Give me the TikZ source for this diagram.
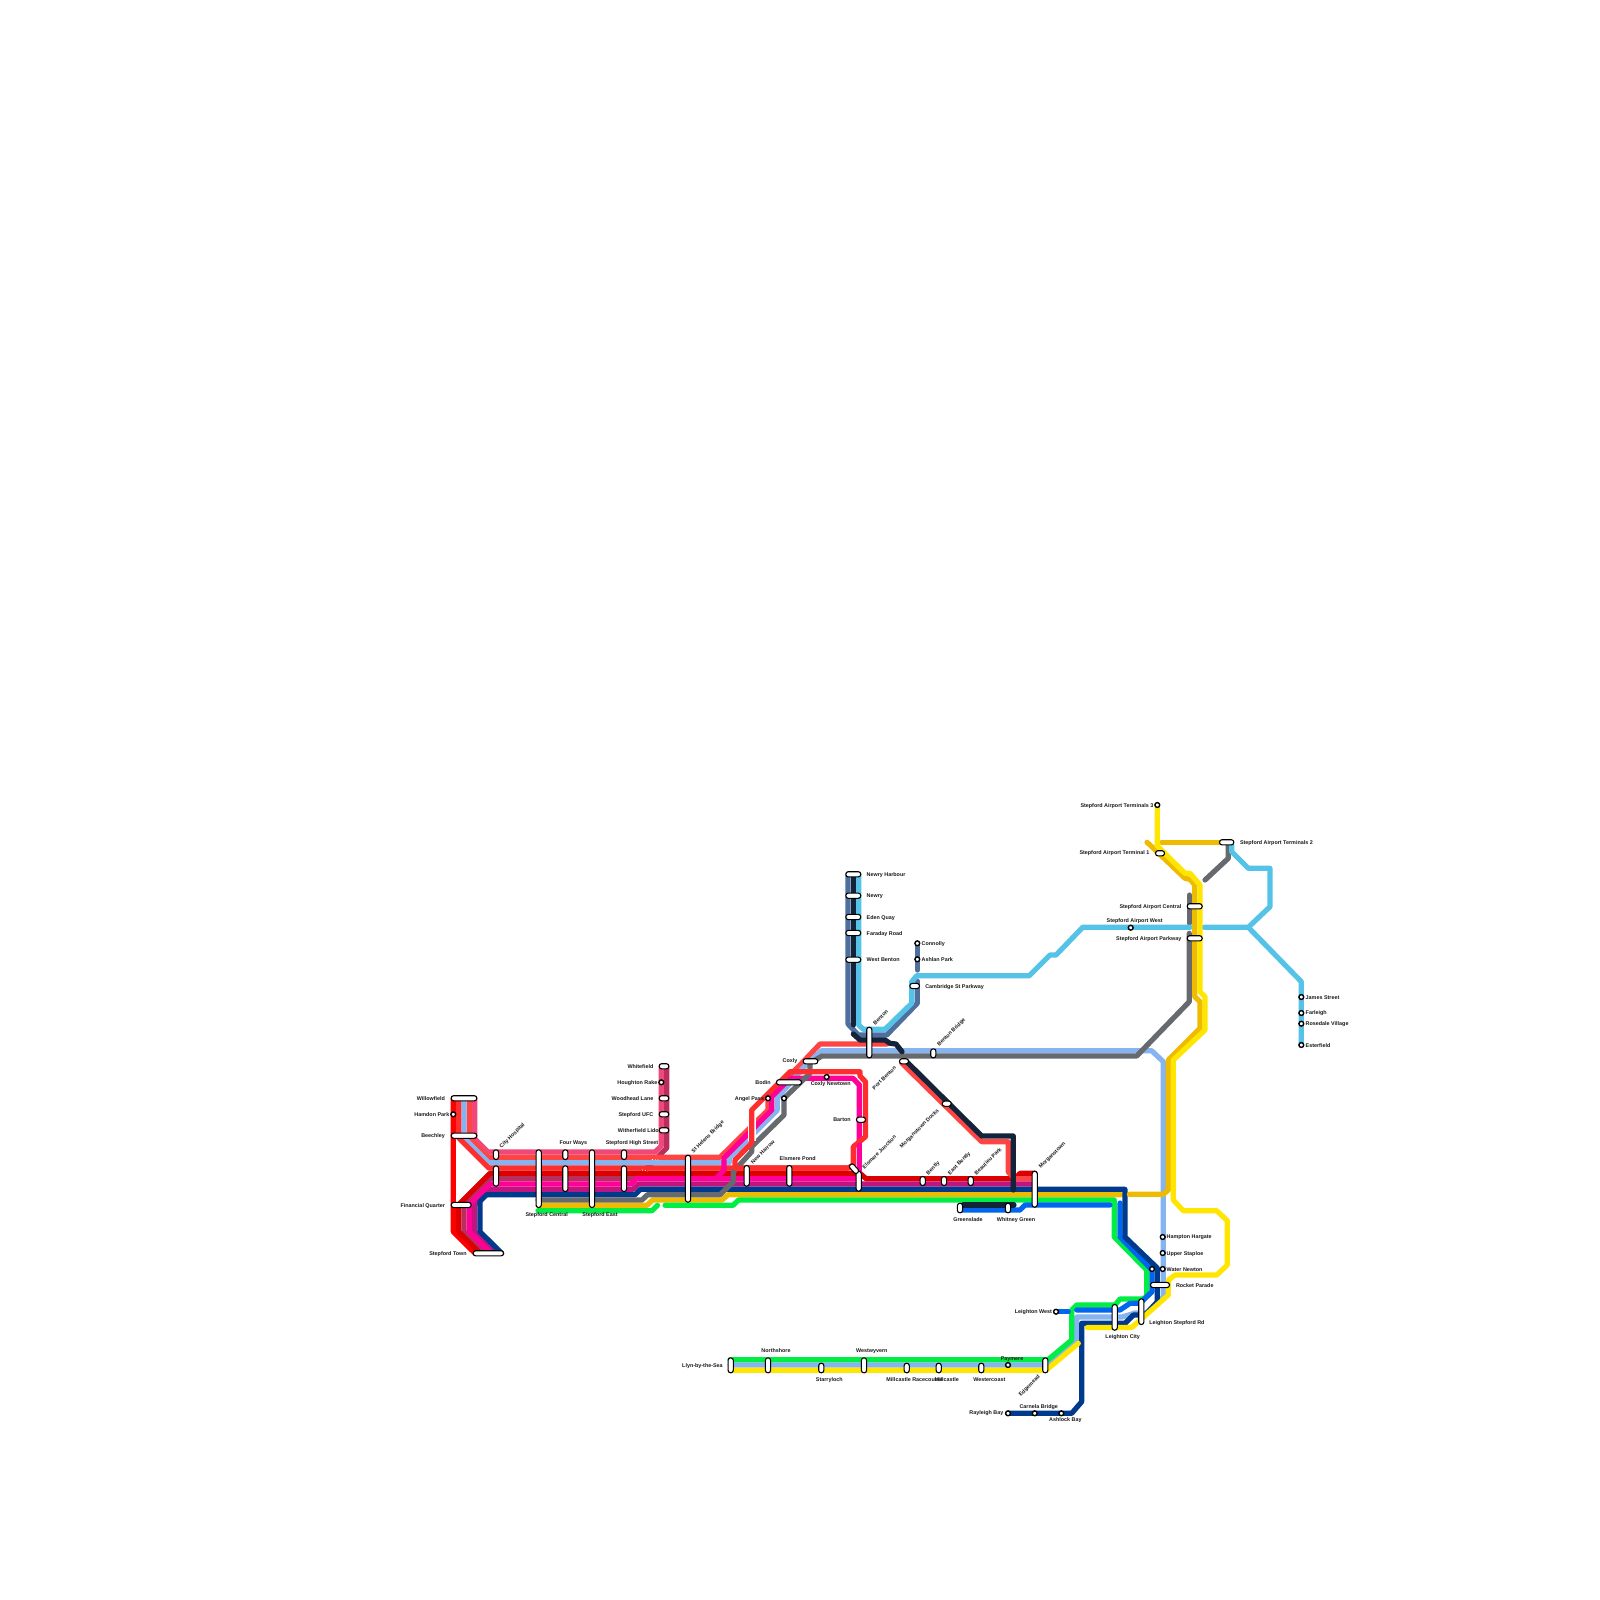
\documentclass[tikz,border=0pt]{standalone}
\usepackage{fontspec}
\setmainfont{Liberation Sans}
\definecolor{cBright}{HTML}{FF0000}
\definecolor{cPink}{HTML}{F0487A}
\definecolor{cRedA}{HTML}{FF4444}
\definecolor{cBlue}{HTML}{85B4F0}
\definecolor{cRed}{HTML}{FF2E2E}
\definecolor{cDark}{HTML}{DC0000}
\definecolor{cMaroon}{HTML}{B82E5E}
\definecolor{cMag}{HTML}{FF0099}
\definecolor{cPurple}{HTML}{C0157F}
\definecolor{cNavy}{HTML}{003A8C}
\definecolor{cGrey}{HTML}{666A6E}
\definecolor{cGold}{HTML}{EEBB00}
\definecolor{cGreen}{HTML}{00EE44}
\definecolor{cYellow}{HTML}{FFE600}
\definecolor{cSky}{HTML}{55C2E8}
\definecolor{cSteel}{HTML}{4F6F9F}
\definecolor{cInk}{HTML}{13233A}
\definecolor{cAzure}{HTML}{0066EE}
\definecolor{cText}{HTML}{1A1A1A}
\tikzset{
  route/.style={line width=2.6pt,line join=round,line cap=round},
  stcap/.style={draw=black,fill=white,line width=.55pt,rounded corners=1.25pt,inner sep=0pt,outer sep=0pt},
  stc/.style={circle,draw=black,fill=white,line width=.7pt,minimum size=2.4pt,inner sep=0pt,outer sep=0pt},
  lbl/.style={inner sep=0pt,outer sep=0pt,yshift=-0.35pt,text=cText,font=\fontsize{2.7pt}{3.2pt}\selectfont\bfseries},
}
\newcommand\capH[4]{\pgfmathsetmacro\cw{(#3-#2)*0.5-0.5}\pgfmathsetmacro\cx{(#2+#3)/2}%
  \node[stcap,minimum width=\cw pt,minimum height=2.6pt] (#1) at (\cx,#4) {};}
\newcommand\capV[4]{\pgfmathsetmacro\ch{(#4-#3)*0.5-0.5}\pgfmathsetmacro\cy{(#3+#4)/2}%
  \node[stcap,minimum width=2.6pt,minimum height=\ch pt] (#1) at (#2,\cy) {};}
\newcommand\stC[3]{\node[stc] (#1) at (#2,#3) {};}
\newcommand\lab[5]{\node[lbl,#1] (#2) at (#3,#4) {#5};}
\begin{document}
\begin{tikzpicture}[x=0.5pt,y=-0.5pt]
\useasboundingbox[fill=white] (0,0) rectangle (1600,1600);
% --- back lines
\draw[route,cBright] (453.3,1098)--(453.3,1231.7)--(475,1253.3);
\draw[route,cMaroon] (485.7,1253.3)--(464,1231.7)--(464,1204.67)--(490,1178.67)--(636.7,1178.67)--(666.7,1148)--(666.7,1066);
\draw[route,cPink] (474.7,1098)--(474.7,1138.7)--(488,1152)--(655,1152)--(661.3,1146)--(661.3,1066);
\draw[route,cRedA] (469.3,1098)--(469.3,1138.3)--(488.3,1157.33)--(720,1157.33)--(768,1110)--(768,1097)--(800,1065)--(820,1044)--(887,1044);
\draw[route,cBlue] (464,1098)--(464,1138)--(488.7,1162.67)--(729.3,1162.67)--(729.3,1158)--(777.3,1110)--(777.3,1098)--(803,1068)--(821.7,1050.7)--(1151.7,1050.7)--(1163.3,1061.7)--(1163.3,1296.7)--(1146.7,1313)--(1135,1313)--(1122,1317)--(1076.7,1317)--(1076.7,1340)--(1050,1365)--(730,1365);
\draw[route,cRed] (458.7,1098)--(458.7,1138)--(488.7,1168)--(848,1168);
\draw[route,cDark] (480.3,1253.3)--(458.7,1231.7)--(458.7,1204.67)--(490,1173.33)--(860,1173.33)--(866,1178.67)--(1015,1178.67)--(1020,1173.33)--(1035,1173.33);
\draw[route,cRedA] (901.7,1063)--(981.7,1141.7)--(1008.3,1141.7)--(1008.3,1172)--(1014.7,1178.67)--(1035,1178.67);
\draw[route,cPurple] (496,1253.3)--(474.7,1231.7)--(474.7,1204.67)--(490,1189.33)--(633,1189.33)--(638.5,1184)--(1035,1184);
\draw[white,line width=.4pt,densely dotted] (642,1170)--(648,1171) (652,1159.5)--(660,1160);
\draw[route,cGold] (538,1205.33)--(647,1205.33)--(652.5,1200)--(722,1200)--(728,1194.67)--(1121,1194.67);
\draw[route,cGreen] (538,1210.67)--(652,1210.67)--(657.5,1205.33);
\draw[route,cGreen] (665,1205.33)--(733,1205.33)--(738.5,1200)--(1114.3,1200)--(1114.3,1237)--(1146.7,1270)--(1146.7,1296.7)--(1142,1299)--(1120,1299)--(1115,1305)--(1076.7,1305)--(1071.7,1310)--(1071.7,1340)--(1048,1359.7)--(730,1359.7);
\draw[route,cAzure] (960,1210)--(1020,1210)--(1025,1205)--(1110,1205);
\draw[route,cAzure] (1120,1203)--(1120,1237)--(1152,1270)--(1152,1291.7)--(1140,1303.3)--(1130,1303.3)--(1120,1310)--(1076.7,1310);
\draw[route,cAzure] (1056,1311.7)--(1068.3,1311.7);
\draw[route,cNavy] (501.7,1253.3)--(480,1231.7)--(480,1201)--(486.7,1194.67)--(635,1194.67)--(640.5,1189.33)--(1125,1189.33)--(1125,1237)--(1157.3,1268)--(1157.3,1301.7)--(1145,1315)--(1133.3,1315)--(1125,1323.3)--(1081.7,1323.3)--(1081.7,1401.7)--(1071.7,1413.3)--(1008,1413.3);
\draw[route,cMag] (490.67,1253.3)--(469.3,1231.7)--(469.3,1204.67)--(490,1184)--(631,1184)--(636.5,1178.67)--(859.3,1178.67)--(859.3,1085)--(853,1078.3)--(790,1078.3)--(771.7,1096.7)--(771.7,1110)--(724,1158)--(724,1170)--(716,1178.67);
\draw[route,cGrey] (538,1200)--(642,1200)--(647.5,1194.67)--(720,1194.67)--(733.3,1181.7)--(733.3,1171.7)--(751.7,1151.7)--(751.7,1146.7)--(784,1115)--(784,1098.3)--(810,1073.3)--(810,1063)--(822,1056)--(1136.7,1056)--(1189.3,1001.7)--(1189.3,933.3);
\draw[route,cGrey] (1189.3,895)--(1189.3,923.3);
\draw[route,cGrey] (1228.3,845)--(1228.3,858.3)--(1205,880);
\draw[line width=3.9pt,white] (751.7,1118)--(751.7,1141);
\draw[route,cRed] (848,1168)--(735,1168)--(735,1160)--(751.7,1143)--(751.7,1110)--(790,1071.7)--(860,1071.7)--(860,1076)--(865.5,1081.7)--(865.5,1136.7)--(853.3,1146.7)--(853.3,1165)--(848,1168);
\draw[route,cMag] (859.3,1085)--(859.3,1130);
\draw[route,cMag] (859.3,1145)--(859.3,1170);
% top group
\draw[route,cSteel] (848,874)--(848,1024)--(858.3,1035)--(886.7,1035)--(917.3,1003.3)--(917.3,981);
\draw[route,cSteel] (917.3,943.3)--(917.3,970);
\draw[route,cInk] (853.3,874)--(853.3,1025);
\draw[route,cInk] (853.3,1034)--(860,1040)--(885,1040)--(890,1043.3)--(896,1044)--(902,1051.7);
\draw[route,cInk] (906.7,1061.7)--(981.7,1136)--(1013.3,1136)--(1013.3,1190);
\draw[route,cInk] (963,1205)--(1014,1205);
\draw[route,cSky] (858.7,874)--(858.7,1025)--(863.3,1029.3)--(885,1029.3)--(911.7,1003.3)--(911.7,981.7)--(916.7,975.7)--(1029.3,975.7)--(1050,955)--(1056,955)--(1082.7,927.3)--(1190,927.3);
\draw[route,cSky] (1204,927.3)--(1248.3,927.3)--(1270,906.7)--(1270,868.3)--(1248.3,868.3)--(1231.7,851.7)--(1231.7,845);
\draw[route,cSky] (1248.3,927.3)--(1301.3,981.7)--(1301.3,1045);
% gold and yellow right
\draw[route,cGold] (1129.3,1194.3)--(1163.3,1194.3)--(1168.3,1190)--(1168.3,1060)--(1200,1028.3)--(1200,1001.7)--(1194.7,996.7)--(1194.7,885)--(1190,879.3)--(1185,878.3)--(1150,845)--(1147,842.3);
\draw[route,cGold] (1161.7,842.3)--(1223,842.3);
\draw[route,cYellow] (1157.3,805)--(1157.3,846)--(1185,873.3)--(1190,873.3)--(1200,885)--(1200,991.7)--(1205,996.7)--(1205,1030)--(1173.3,1060)--(1173.3,1200)--(1183.3,1210.7)--(1216.7,1210.7)--(1227.3,1220.7)--(1227.3,1265)--(1216.7,1275)--(1175,1275)--(1168.3,1280)--(1168.3,1295)--(1131.7,1327.5)--(1087.3,1327.5);
\draw[route,cYellow] (1078.3,1343.3)--(1046,1370.3)--(730,1370.3);
% stations
\capH{sWillowfield}{450.7}{477.3}{1098.3}
\stC{sHamdon}{453.3}{1114.3}
\capH{sBeechley}{450.7}{477.3}{1135.7}
\capH{sFinancial}{450.7}{471.7}{1205}
\capH{sTown}{472.7}{504}{1253.3}
\capV{sCityA}{496}{1149.3}{1160}
\capV{sCityB}{496}{1165.3}{1186.7}
\capV{sCentral}{538.7}{1149.3}{1208}
\capV{sFourA}{565.3}{1149.3}{1160}
\capV{sFourB}{565.3}{1165.3}{1192}
\capV{sEast}{592}{1149.3}{1208}
\capV{sHighA}{624}{1149.3}{1160}
\capV{sHighB}{624}{1165.3}{1192}
\capV{sHelens}{688}{1154.7}{1202.7}
\capH{sWhitefield}{658.7}{669.3}{1066.3}
\stC{sHoughton}{661.3}{1082.3}
\capH{sWoodhead}{658.7}{669.3}{1098.3}
\capH{sUFC}{658.7}{669.3}{1114.3}
\capH{sLido}{658.7}{669.3}{1130.3}
\capV{sHarrow}{746.7}{1165}{1186.7}
\capV{sElsmere}{789.3}{1165}{1186.7}
\capV{sJunction}{858.7}{1170.7}{1191.7}
\node[draw=black,fill=white,line width=.55pt,rounded corners=1.25pt,minimum width=5.5pt,minimum height=2.6pt,inner sep=0pt,rotate=-48] (sJunctionB) at (854,1168.7) {};
\capH{sBarton}{856}{866}{1119.7}
\capH{sCoxly}{802.7}{818.3}{1061.3}
\capH{sBodin}{776}{802}{1082.3}
\stC{sAngel}{768}{1098.3}
\stC{sGreyStop}{784}{1098.3}
\stC{sCoxlyN}{826.7}{1077}
\capH{sPortBenton}{899}{909}{1061.3}
\capH{sDocks}{941.7}{951.7}{1103.7}
\capV{sBentonBr}{933.3}{1048.3}{1058.3}
\capV{sBenton}{869.3}{1026.7}{1058.3}
\capV{sBently}{922.7}{1176}{1186}
\capV{sEastB}{944}{1176}{1186}
\capV{sBeaulieu}{970.7}{1176}{1186}
\capV{sMorgan}{1034.7}{1170.7}{1207.7}
\capV{sGreenslade}{960}{1202.7}{1213.3}
\capV{sWhitney}{1008}{1202.7}{1213.3}
\capH{sNewryH}{845.3}{861.3}{874.3}
\capH{sNewry}{845.3}{861.3}{895.7}
\capH{sEden}{845.3}{861.3}{917}
\capH{sFaraday}{845.3}{861.3}{933}
\capH{sWestB}{845.3}{861.3}{959.7}
\stC{sConnolly}{917.3}{943.3}
\stC{sAshlan}{917.3}{959.3}
\capH{sCambridge}{909.3}{920}{986}
\stC{sT3}{1157.3}{805}
\capH{sT1}{1155}{1165}{853.3}
\capH{sT2}{1219}{1234.3}{842.3}
\capH{sAC}{1186.7}{1202.7}{906.3}
\stC{sAW}{1130.7}{927.7}
\capH{sAP}{1186.7}{1202.7}{938.3}
\stC{sJames}{1301.3}{997}
\stC{sFarleigh}{1301.3}{1013}
\stC{sRosedale}{1301.3}{1023.7}
\stC{sEsterfield}{1301.3}{1045}
\stC{sHampton}{1162.7}{1237}
\stC{sUpper}{1162.7}{1253}
\stC{sWater}{1162.7}{1269}
\stC{sWaterB}{1152}{1269}
\capH{sRocket}{1150}{1170}{1285}
\capV{sLCity}{1114.7}{1304}{1330.7}
\capV{sLRd}{1141.3}{1298.3}{1325}
\stC{sLWest}{1056}{1311.7}
\capV{sLlyn}{730.7}{1357.3}{1373.3}
\capV{sNorth}{768}{1357.3}{1373.3}
\capV{sStarry}{821.3}{1362.7}{1373.3}
\capV{sWyv}{864}{1357.3}{1373.3}
\capV{sRace}{906.7}{1362.7}{1373.3}
\capV{sMill}{938.7}{1362.7}{1373.3}
\capV{sWestc}{981.3}{1362.7}{1373.3}
\capV{sEdge}{1045.3}{1357.3}{1373.3}
\stC{sPay}{1008}{1365}
\stC{sRay}{1008}{1413.3}
\stC{sCarn}{1034.7}{1413.3}
\stC{sAsh}{1061.3}{1413.3}
% labels
\lab{anchor=east}{t1}{445}{1098}{Willowfield}
\lab{anchor=east}{t2}{449.3}{1114}{Hamdon Park}
\lab{anchor=east}{t3}{445}{1135.7}{Beechley}
\lab{anchor=east}{t4}{445}{1205}{Financial Quarter}
\lab{anchor=east}{t5}{466.7}{1253}{Stepford Town}
\lab{anchor=west,rotate=45}{t6}{500.7}{1146.7}{City Hospital}
\lab{}{t7}{573.3}{1142}{Four Ways}
\lab{}{t8}{546.7}{1214}{Stepford Central}
\lab{}{t9}{600}{1214}{Stepford East}
\lab{}{t10}{632}{1142}{Stepford High Street}
\lab{anchor=east}{t11}{653.3}{1066}{Whitefield}
\lab{anchor=east}{t12}{657.3}{1082}{Houghton Rake}
\lab{anchor=east}{t13}{653.3}{1098}{Woodhead Lane}
\lab{anchor=east}{t14}{653.3}{1114}{Stepford UFC}
\lab{anchor=east}{t15}{658.7}{1130}{Witherfield Lido}
\lab{anchor=west,rotate=45}{t16}{692.7}{1151.7}{St Helens Bridge}
\lab{anchor=west,rotate=45}{t17}{751.7}{1162.3}{New Harrow}
\lab{}{t18}{797.7}{1158}{Elsmere Pond}
\lab{anchor=west,rotate=45}{t19}{863.3}{1167.3}{Elsmere Junction}
\lab{anchor=east}{t20}{850.7}{1119.3}{Barton}
\lab{anchor=east}{t21}{797.3}{1060.7}{Coxly}
\lab{anchor=east}{t22}{770.7}{1082}{Bodin}
\lab{anchor=east}{t23}{764}{1098}{Angel Pass}
\lab{}{t24}{830.7}{1083.3}{Coxly Newtown}
\lab{anchor=west,rotate=45}{t25}{873.3}{1088.3}{Port Benton}
\lab{anchor=west,rotate=45}{t26}{901}{1146.7}{Morganstown Docks}
\lab{anchor=west,rotate=45}{t27}{927.3}{1173.3}{Bently}
\lab{anchor=west,rotate=45}{t28}{949}{1173.3}{East Bently}
\lab{anchor=west,rotate=45}{t29}{975.3}{1173.3}{Beaulieu Park}
\lab{anchor=west,rotate=45}{t30}{1040}{1167.3}{Morganstown}
\lab{}{t31}{968}{1219.3}{Greenslade}
\lab{}{t32}{1016}{1219.3}{Whitney Green}
\lab{anchor=west,rotate=45}{t33}{874}{1023.3}{Benton}
\lab{anchor=west,rotate=45}{t34}{938.3}{1045}{Benton Bridge}
\lab{anchor=west}{t35}{866.7}{874}{Newry Harbour}
\lab{anchor=west}{t36}{866.7}{895.7}{Newry}
\lab{anchor=west}{t37}{866.7}{917}{Eden Quay}
\lab{anchor=west}{t38}{866.7}{933}{Faraday Road}
\lab{anchor=west}{t39}{866.7}{959}{West Benton}
\lab{anchor=west}{t40}{921.7}{943.3}{Connolly}
\lab{anchor=west}{t41}{921.7}{959.3}{Ashlan Park}
\lab{anchor=west}{t42}{925.3}{986}{Cambridge St Parkway}
\lab{anchor=east}{t43}{1153.3}{805}{Stepford Airport Terminals 3}
\lab{anchor=east}{t44}{1149.3}{852.7}{Stepford Airport Terminal 1}
\lab{anchor=west}{t45}{1240}{842.3}{Stepford Airport Terminals 2}
\lab{anchor=east}{t46}{1181.3}{906}{Stepford Airport Central}
\lab{}{t47}{1134.7}{920.7}{Stepford Airport West}
\lab{anchor=east}{t48}{1181.3}{938}{Stepford Airport Parkway}
\lab{anchor=west}{t49}{1305.7}{996.7}{James Street}
\lab{anchor=west}{t50}{1305.7}{1012.7}{Farleigh}
\lab{anchor=west}{t51}{1305.7}{1023.7}{Rosedale Village}
\lab{anchor=west}{t52}{1305.7}{1045}{Esterfield}
\lab{anchor=west}{t53}{1166.7}{1236.7}{Hampton Hargate}
\lab{anchor=west}{t54}{1166.7}{1253}{Upper Staploe}
\lab{anchor=west}{t55}{1166.7}{1269}{Water Newton}
\lab{anchor=west}{t56}{1176}{1284.7}{Rocket Parade}
\lab{anchor=west}{t57}{1149.3}{1322}{Leighton Stepford Rd}
\lab{}{t58}{1122.7}{1336.7}{Leighton City}
\lab{anchor=east}{t59}{1052}{1311.3}{Leighton West}
\lab{anchor=east}{t60}{722.7}{1365}{Llyn-by-the-Sea}
\lab{}{t61}{776}{1350}{Northshore}
\lab{}{t62}{871.7}{1350}{Westwyvern}
\lab{}{t63}{829.3}{1379.3}{Starryloch}
\lab{}{t64}{914.7}{1379.3}{Millcastle Racecourse}
\lab{}{t65}{946.7}{1379.3}{Millcastle}
\lab{}{t66}{989.3}{1379.3}{Westercoast}
\lab{}{t67}{1012}{1358.3}{Paymere}
\lab{anchor=west,rotate=45}{t68}{1020}{1395}{Edgemead}
\lab{anchor=east}{t69}{1003.3}{1412.7}{Rayleigh Bay}
\lab{}{t70}{1038.7}{1406}{Carnela Bridge}
\lab{}{t71}{1065.3}{1419.3}{Ashlock Bay}
\end{tikzpicture}
\end{document}
